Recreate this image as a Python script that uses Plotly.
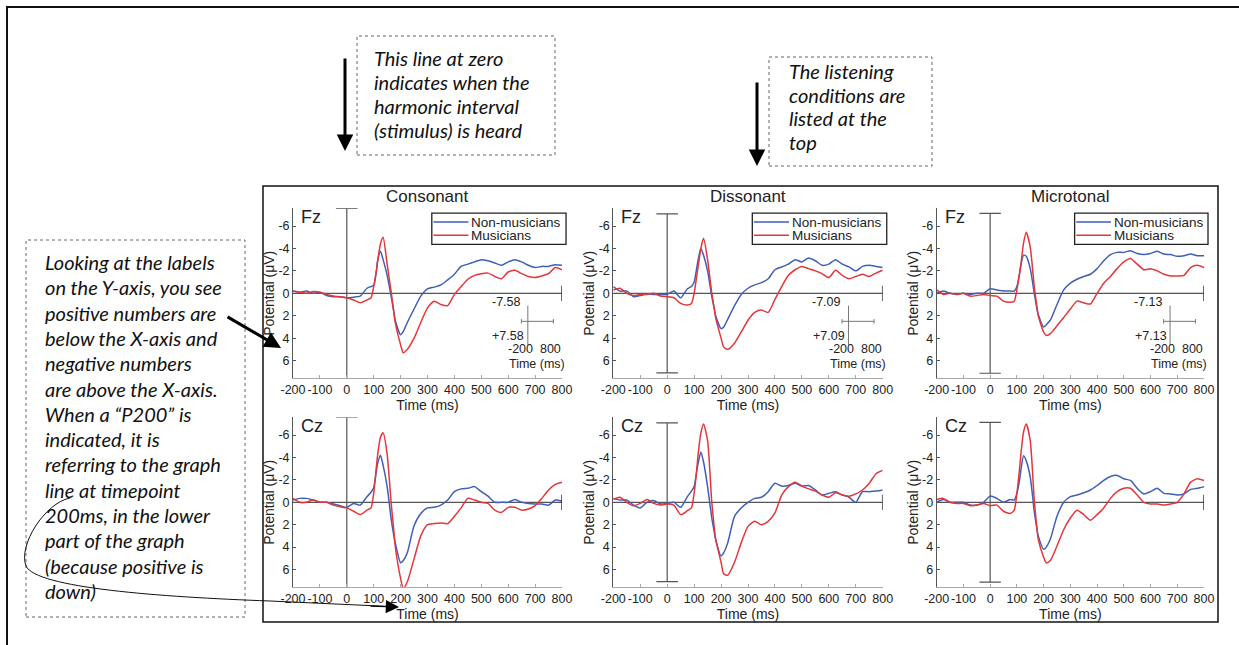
import plotly.graph_objects as go

W, H = 1239, 645


def px(x):
    return x / W


def py(y):
    return 1 - y / H


# ---------------- data ----------------
times = [-200, -175, -150, -125, -100, -75, -50, -25, 0, 25, 50, 75, 90, 100, 110, 115,
         125, 135, 150, 165, 175, 180, 200, 210, 225, 250, 275, 300, 325, 350, 375, 400,
         425, 450, 475, 500, 525, 550, 575, 600, 625, 650, 675, 700, 725, 750, 775, 800]

conditions = ["Consonant", "Dissonant", "Microtonal"]
electrodes = ["Fz", "Cz"]
groups = ["Non-musicians", "Musicians"]
scale_labels = ["7.58", "7.09", "7.13"]
scale_values = [7.58, 7.09, 7.13]

x_ticks = [-200, -100, 0, 100, 200, 300, 400, 500, 600, 700, 800]
x_tick_labels = ["-200", "-100", "0", "100", "200", "300", "400", "500", "600", "700", "800"]
y_ticks = [-6, -4, -2, 0, 2, 4, 6]
y_tick_labels = ["-6", "-4", "-2", "0", "2", "4", "6"]

fz_consonant_nm = [-0.2, -0.1, -0.2, 0.0, -0.1, 0.2, 0.3, 0.3, 0.4, 0.35, 0.25, -0.45, -0.6, -0.7, -2.0, -3.0,
                   -3.75, -3.0, -1.6, 0.3, 1.7, 2.4, 3.7, 3.4, 2.6, 1.4, 0.25, -0.4, -0.55, -0.75, -1.2, -1.7,
                   -2.4, -2.6, -2.8, -3.0, -2.9, -2.7, -2.5, -2.8, -3.0, -2.8, -2.5, -2.3, -2.4, -2.4, -2.55, -2.5]
fz_consonant_mu = [-0.2, -0.1, 0.0, -0.15, -0.1, 0.1, 0.25, 0.3, 0.4, 0.6, 0.85, 0.6, 0.4, -0.6, -2.0, -2.9,
                   -4.4, -5.0, -2.6, -0.1, 1.7, 2.6, 4.6, 5.3, 5.0, 4.0, 2.6, 1.3, 0.7, 1.0, 1.1, 0.1,
                   -0.6, -1.25, -1.6, -1.75, -1.8, -1.5, -1.3, -1.9, -2.05, -1.75, -1.5, -1.4, -1.55, -1.75, -2.3, -2.1]

fz_dissonant_nm = [-0.6, -0.2, -0.2, 0.3, 0.2, 0.05, 0.1, 0.1, 0.1, -0.2, 0.4, -0.4, -0.6, -1.0, -2.3, -3.0,
                   -4.0, -3.4, -2.0, 0.2, 1.4, 2.0, 3.15, 3.0, 2.3, 1.1, 0.1, -0.45, -0.75, -0.95, -1.3, -2.1,
                   -2.35, -2.6, -3.0, -2.8, -3.15, -2.9, -2.5, -2.6, -3.0, -2.6, -2.35, -2.0, -2.4, -2.5, -2.4, -2.3]
fz_dissonant_mu = [-0.3, -0.45, 0.0, 0.2, 0.1, 0.1, 0.0, 0.25, 0.3, 0.4, 0.9, 1.05, 0.9, 0.0, -1.6, -2.4,
                   -4.0, -4.9, -3.0, -0.1, 1.4, 2.2, 4.0, 4.8, 5.0, 4.45, 3.45, 2.4, 1.7, 1.5, 1.7, 0.55,
                   -0.6, -1.6, -2.1, -2.4, -2.2, -2.0, -1.75, -1.4, -2.05, -1.6, -1.3, -1.5, -1.7, -1.5, -1.8, -2.05]

fz_microtonal_nm = [0.0, -0.2, 0.0, 0.1, 0.0, 0.1, 0.0, 0.0, -0.4, -0.3, -0.2, -0.2, -0.2, -0.6, -1.75, -2.5,
                    -3.4, -3.3, -2.2, 0.0, 1.4, 1.9, 3.0, 2.8, 2.4, 1.0, -0.3, -0.9, -1.25, -1.5, -1.7, -2.2,
                    -2.9, -3.45, -3.65, -3.65, -3.8, -3.55, -3.45, -3.55, -3.75, -3.5, -3.45, -3.3, -3.35, -3.5, -3.35, -3.35]
fz_microtonal_mu = [-0.3, 0.1, 0.0, 0.1, 0.0, 0.25, 0.2, 0.1, 0.2, 0.25, 0.7, 0.8, 0.7, -0.3, -1.8, -2.6,
                    -4.5, -5.45, -4.1, -0.6, 1.2, 2.0, 3.45, 3.75, 3.6, 2.9, 2.15, 1.4, 0.7, 0.85, 0.95, 0.0,
                    -0.9, -1.5, -2.2, -2.8, -3.1, -2.6, -2.1, -2.2, -2.0, -1.7, -1.55, -1.55, -1.6, -2.3, -2.5, -2.3]

cz_consonant_nm = [-0.2, -0.35, -0.35, -0.2, 0.0, 0.0, 0.15, 0.3, 0.45, 0.1, 0.25, -0.5, -0.9, -1.3, -2.8, -3.5,
                   -4.2, -3.3, -1.4, 1.5, 3.0, 3.6, 5.4, 5.2, 4.5, 2.1, 1.0, 0.5, 0.45, 0.25, -0.2, -0.95,
                   -1.2, -1.25, -1.4, -0.95, -0.55, 0.0, 0.0, 0.0, -0.25, 0.0, 0.1, 0.15, 0.15, 0.25, -0.2, -0.1]
cz_consonant_mu = [-0.35, 0.0, 0.0, -0.2, 0.0, 0.0, 0.25, 0.4, 0.5, 0.8, 1.1, 0.7, 0.5, -0.8, -3.2, -4.3,
                   -5.8, -6.2, -4.3, 0.1, 2.6, 3.9, 6.8, 7.7, 7.1, 5.05, 3.0, 2.0, 1.9, 1.85, 1.9, 1.25,
                   0.5, -0.35, -0.2, 0.0, 0.1, 0.7, 0.9, 0.45, 0.45, 0.7, 0.6, 0.3, -0.35, -1.1, -1.6, -1.8]

cz_dissonant_nm = [-0.35, -0.2, -0.2, 0.25, 0.5, 0.0, -0.15, 0.15, 0.1, 0.0, 0.45, -0.5, -1.0, -1.4, -2.8, -3.5,
                   -4.5, -3.6, -1.4, 1.3, 2.7, 3.3, 4.8, 4.5, 3.6, 1.25, 0.5, 0.0, -0.35, -0.45, -0.95, -1.7,
                   -1.45, -1.5, -1.7, -1.45, -1.5, -1.1, -0.65, -0.8, -0.95, -0.65, -0.45, 0.0, -0.95, -0.95, -1.0, -1.1]
cz_dissonant_mu = [-0.25, -0.45, 0.0, 0.3, 0.1, -0.25, 0.1, 0.25, 0.15, 0.25, 1.1, 0.75, 0.5, -0.8, -3.0, -4.3,
                   -6.2, -7.0, -5.5, -0.2, 2.3, 3.3, 5.35, 6.4, 6.5, 5.35, 3.6, 2.15, 1.7, 2.0, 1.7, 0.95,
                   -0.65, -1.4, -1.8, -1.45, -1.2, -1.0, -0.65, -0.45, -0.85, -0.65, -0.55, -0.75, -1.1, -1.7, -2.55, -2.85]

cz_microtonal_nm = [0.0, -0.25, 0.0, 0.0, 0.0, 0.25, 0.25, 0.0, -0.55, -0.35, 0.0, -0.25, -0.2, -0.8, -2.0, -2.9,
                    -4.15, -3.7, -2.25, 0.8, 2.4, 3.0, 4.2, 4.0, 3.3, 1.25, 0.0, -0.5, -0.65, -0.85, -1.1, -1.5,
                    -1.95, -2.3, -2.4, -2.1, -1.95, -1.25, -0.75, -0.95, -1.25, -0.8, -0.75, -0.65, -0.75, -1.15, -1.25, -1.4]
cz_microtonal_mu = [-0.25, -0.35, 0.0, 0.1, 0.1, 0.3, 0.25, 0.1, 0.3, 0.25, 0.8, 1.0, 0.7, -0.8, -3.0, -4.3,
                    -6.3, -7.0, -5.5, -0.2, 2.3, 3.3, 4.9, 5.4, 5.2, 3.9, 2.45, 1.4, 0.7, 1.1, 1.6, 1.1,
                    0.5, -0.35, -0.95, -1.25, -1.25, -0.65, 0.0, 0.15, 0.15, 0.25, 0.15, 0.0, -0.75, -1.8, -2.1, -1.95]

series = {
    ("Fz", "Consonant"): (fz_consonant_nm, fz_consonant_mu),
    ("Fz", "Dissonant"): (fz_dissonant_nm, fz_dissonant_mu),
    ("Fz", "Microtonal"): (fz_microtonal_nm, fz_microtonal_mu),
    ("Cz", "Consonant"): (cz_consonant_nm, cz_consonant_mu),
    ("Cz", "Dissonant"): (cz_dissonant_nm, cz_dissonant_mu),
    ("Cz", "Microtonal"): (cz_microtonal_nm, cz_microtonal_mu),
}

box1_lines = ["This line at zero", "indicates when the", "harmonic interval", "(stimulus) is heard"]
box2_lines = ["The listening", "conditions are", "listed at the", "top"]
box3_lines = ["Looking at the labels", "on the Y-axis, you see", "positive numbers are",
              "below the X-axis and", "negative numbers", "are above the X-axis.",
              "When a \u201cP200\u201d is", "indicated, it is", "referring to the graph",
              "line at timepoint", "200ms, in the lower", "part of the graph",
              "(because positive is", "down)"]

# ---------------- styling / layout ----------------
BLUE = "#3f5fb8"
RED = "#e4363a"
AX = "#555555"
FONT = "Arial, Liberation Sans, sans-serif"
NOTE_FONT = "Lato, Open Sans, sans-serif"
YMAX = 7.58

col_px = [(293.0, 562.0), (613.3, 882.7), (936.7, 1204.0)]
row_px = [(208.3, 378.3), (417.4, 587.2)]

fig = go.Figure()
layout = dict(
    width=W, height=H, margin=dict(l=0, r=0, t=0, b=0, autoexpand=False),
    paper_bgcolor="white", plot_bgcolor="white",
    showlegend=False, font=dict(family=FONT, color="#222"),
)
shapes = []
annotations = []

for r, elec in enumerate(electrodes):
    for c, cond in enumerate(conditions):
        idx = r * 3 + c + 1
        xa = "x" if idx == 1 else f"x{idx}"
        ya = "y" if idx == 1 else f"y{idx}"
        xk = "xaxis" if idx == 1 else f"xaxis{idx}"
        yk = "yaxis" if idx == 1 else f"yaxis{idx}"
        x0p, x1p = col_px[c]
        y0p, y1p = row_px[r]
        layout[xk] = dict(
            domain=[px(x0p), px(x1p)], anchor=ya, range=[-200, 800],
            tickvals=x_ticks, ticktext=x_tick_labels, tickangle=0,
            tickfont=dict(size=12.5, color="#222"),
            showline=True, linecolor="#a8a8a8", linewidth=1, ticks="inside", ticklen=3,
            tickcolor="#a8a8a8", showgrid=False, zeroline=False, automargin=False,
            title=dict(text="Time (ms)", font=dict(size=14, color="#222"), standoff=0),
        )
        layout[yk] = dict(
            domain=[py(y1p), py(y0p)], anchor=xa, range=[YMAX, -YMAX],
            tickvals=y_ticks, ticktext=y_tick_labels, tickfont=dict(size=12.5, color="#222"),
            showline=True, linecolor=AX, linewidth=1, ticks="inside", ticklen=3,
            tickcolor=AX, showgrid=False, zeroline=False, automargin=False,
            title=dict(text="Potential (\u03bcV)", font=dict(size=14, color="#222"), standoff=0),
        )
        nm, mu = series[(elec, cond)]
        for g, vals, col in ((groups[0], nm, BLUE), (groups[1], mu, RED)):
            fig.add_trace(go.Scatter(
                x=times, y=vals, xaxis=xa, yaxis=ya, mode="lines", name=g,
                line=dict(color=col, width=1.5, shape="spline", smoothing=0.6),
                hoverinfo="x+y+name",
            ))

        # baseline and stimulus-onset lines
        shapes.append(dict(type="line", xref=xa, yref=ya, x0=-200, x1=800, y0=0, y1=0,
                           line=dict(color=AX, width=1.2), layer="below"))
        shapes.append(dict(type="line", xref=xa, yref=ya, x0=800, x1=800, y0=-0.68, y1=0.68,
                           line=dict(color="#333", width=1.5)))
        vext = YMAX if c == 0 else scale_values[c]
        shapes.append(dict(type="line", xref=xa, yref=ya, x0=0, x1=0, y0=-vext, y1=vext,
                           line=dict(color=AX, width=1.2), layer="below"))
        shapes.append(dict(type="line", xref=xa, yref=ya, x0=-40, x1=40, y0=-vext, y1=-vext,
                           line=dict(color=AX, width=1.2)))
        if c != 0:
            shapes.append(dict(type="line", xref=xa, yref=ya, x0=-40, x1=40, y0=vext, y1=vext,
                               line=dict(color=AX, width=1.2)))

        # electrode label
        annotations.append(dict(text=elec, xref=f"{xa} domain", yref=f"{ya} domain",
                                x=0.022, y=0.95, xanchor="left", yanchor="middle",
                                showarrow=False, font=dict(size=18, color="#222")))

        if r == 0:
            # column title
            annotations.append(dict(text=cond, xref="paper", yref="paper",
                                    x=px((x0p + x1p) / 2), y=py(196), xanchor="center",
                                    yanchor="middle", showarrow=False,
                                    font=dict(size=17, color="#222")))
            # legend box
            shapes.append(dict(type="rect", xref=f"{xa} domain", yref=f"{ya} domain",
                               x0=0.516, x1=1.015, y0=0.788, y1=0.972,
                               line=dict(color="#222", width=1.3), fillcolor="white"))
            for k, (g, col) in enumerate(((groups[0], BLUE), (groups[1], RED))):
                yy = 0.919 - 0.078 * k
                shapes.append(dict(type="line", xref=f"{xa} domain", yref=f"{ya} domain",
                                   x0=0.522, x1=0.652, y0=yy, y1=yy,
                                   line=dict(color=col, width=1.5)))
                annotations.append(dict(text=g, xref=f"{xa} domain", yref=f"{ya} domain",
                                        x=0.656, y=yy, xanchor="left", yanchor="middle",
                                        showarrow=False, font=dict(size=13.5, color="#222")))
            # calibration / scale inset
            sc = dict(color="#777", width=1)
            shapes.append(dict(type="line", xref=xa, yref=ya, x0=673, x1=673, y0=1.1, y1=4.6, line=sc))
            shapes.append(dict(type="line", xref=xa, yref=ya, x0=649, x1=768, y0=2.5, y1=2.5, line=sc))
            shapes.append(dict(type="line", xref=xa, yref=ya, x0=649, x1=649, y0=2.3, y1=2.7, line=sc))
            shapes.append(dict(type="line", xref=xa, yref=ya, x0=768, x1=768, y0=2.3, y1=2.7, line=sc))
            for txt, tx, ty in ((f"-{scale_labels[c]}", 592, 0.8), (f"+{scale_labels[c]}", 600, 3.84),
                                ("-200  800", 698, 4.96), ("Time (ms)", 707, 6.3)):
                annotations.append(dict(text=txt, xref=xa, yref=ya, x=tx, y=ty, xanchor="center",
                                        yanchor="middle", showarrow=False,
                                        font=dict(size=12.5, color="#222")))

# frames
shapes.append(dict(type="rect", xref="paper", yref="paper", x0=px(263), x1=px(1218),
                   y0=py(622), y1=py(186), line=dict(color="#111", width=1.5)))
shapes.append(dict(type="rect", xref="paper", yref="paper", x0=px(7), x1=px(1275),
                   y0=py(680), y1=py(7), line=dict(color="#111", width=2)))

# note boxes
for (bx0, by0, bx1, by1) in ((357, 36, 555, 155), (769, 57, 932, 166), (26, 240, 245, 617)):
    shapes.append(dict(type="rect", xref="paper", yref="paper", x0=px(bx0), x1=px(bx1),
                       y0=py(by1), y1=py(by0), line=dict(color="#666", width=1, dash="dot")))

for lines, lx, ly0, dy in ((box1_lines, 372, 58, 24), (box2_lines, 787, 71, 23.7),
                           (box3_lines, 43, 262, 25.3)):
    for i, t in enumerate(lines):
        annotations.append(dict(text=f"<i>{t}</i>", xref="paper", yref="paper",
                                x=px(lx), y=py(ly0 + dy * i), xanchor="left", yanchor="middle",
                                showarrow=False, font=dict(family=NOTE_FONT, size=20, color="#111")))

# arrows
for (tx, ty, axo, ayo) in ((345, 151, 0, -94), (757, 166, 0, -85), (281, 348, -55, -32)):
    annotations.append(dict(text="", xref="paper", yref="paper", x=px(tx), y=py(ty),
                            ax=axo, ay=ayo, showarrow=True, arrowhead=2, arrowsize=1.1,
                            arrowwidth=3, arrowcolor="#000"))

pts = [(70, 498), (45, 503), (18, 545), (26, 566), (36, 588), (160, 597), (270, 601), (390, 606.5)]
p = [(px(a), py(b)) for a, b in pts]
path = (f"M {p[0][0]},{p[0][1]} C {p[1][0]},{p[1][1]} {p[2][0]},{p[2][1]} {p[3][0]},{p[3][1]} "
        f"C {p[4][0]},{p[4][1]} {p[5][0]},{p[5][1]} {p[6][0]},{p[6][1]} L {p[7][0]},{p[7][1]}")
shapes.append(dict(type="path", xref="paper", yref="paper", path=path,
                   line=dict(color="#111", width=1)))
annotations.append(dict(text="", xref="paper", yref="paper", x=px(399), y=py(607),
                        ax=-30, ay=-1, showarrow=True, arrowhead=2, arrowsize=2.2,
                        arrowwidth=1.2, arrowcolor="#000"))

layout["shapes"] = shapes
layout["annotations"] = annotations
fig.update_layout(**layout)

fig.write_html("out.html", config={"displayModeBar": False},
               post_script="document.body.style.margin='0px';")
